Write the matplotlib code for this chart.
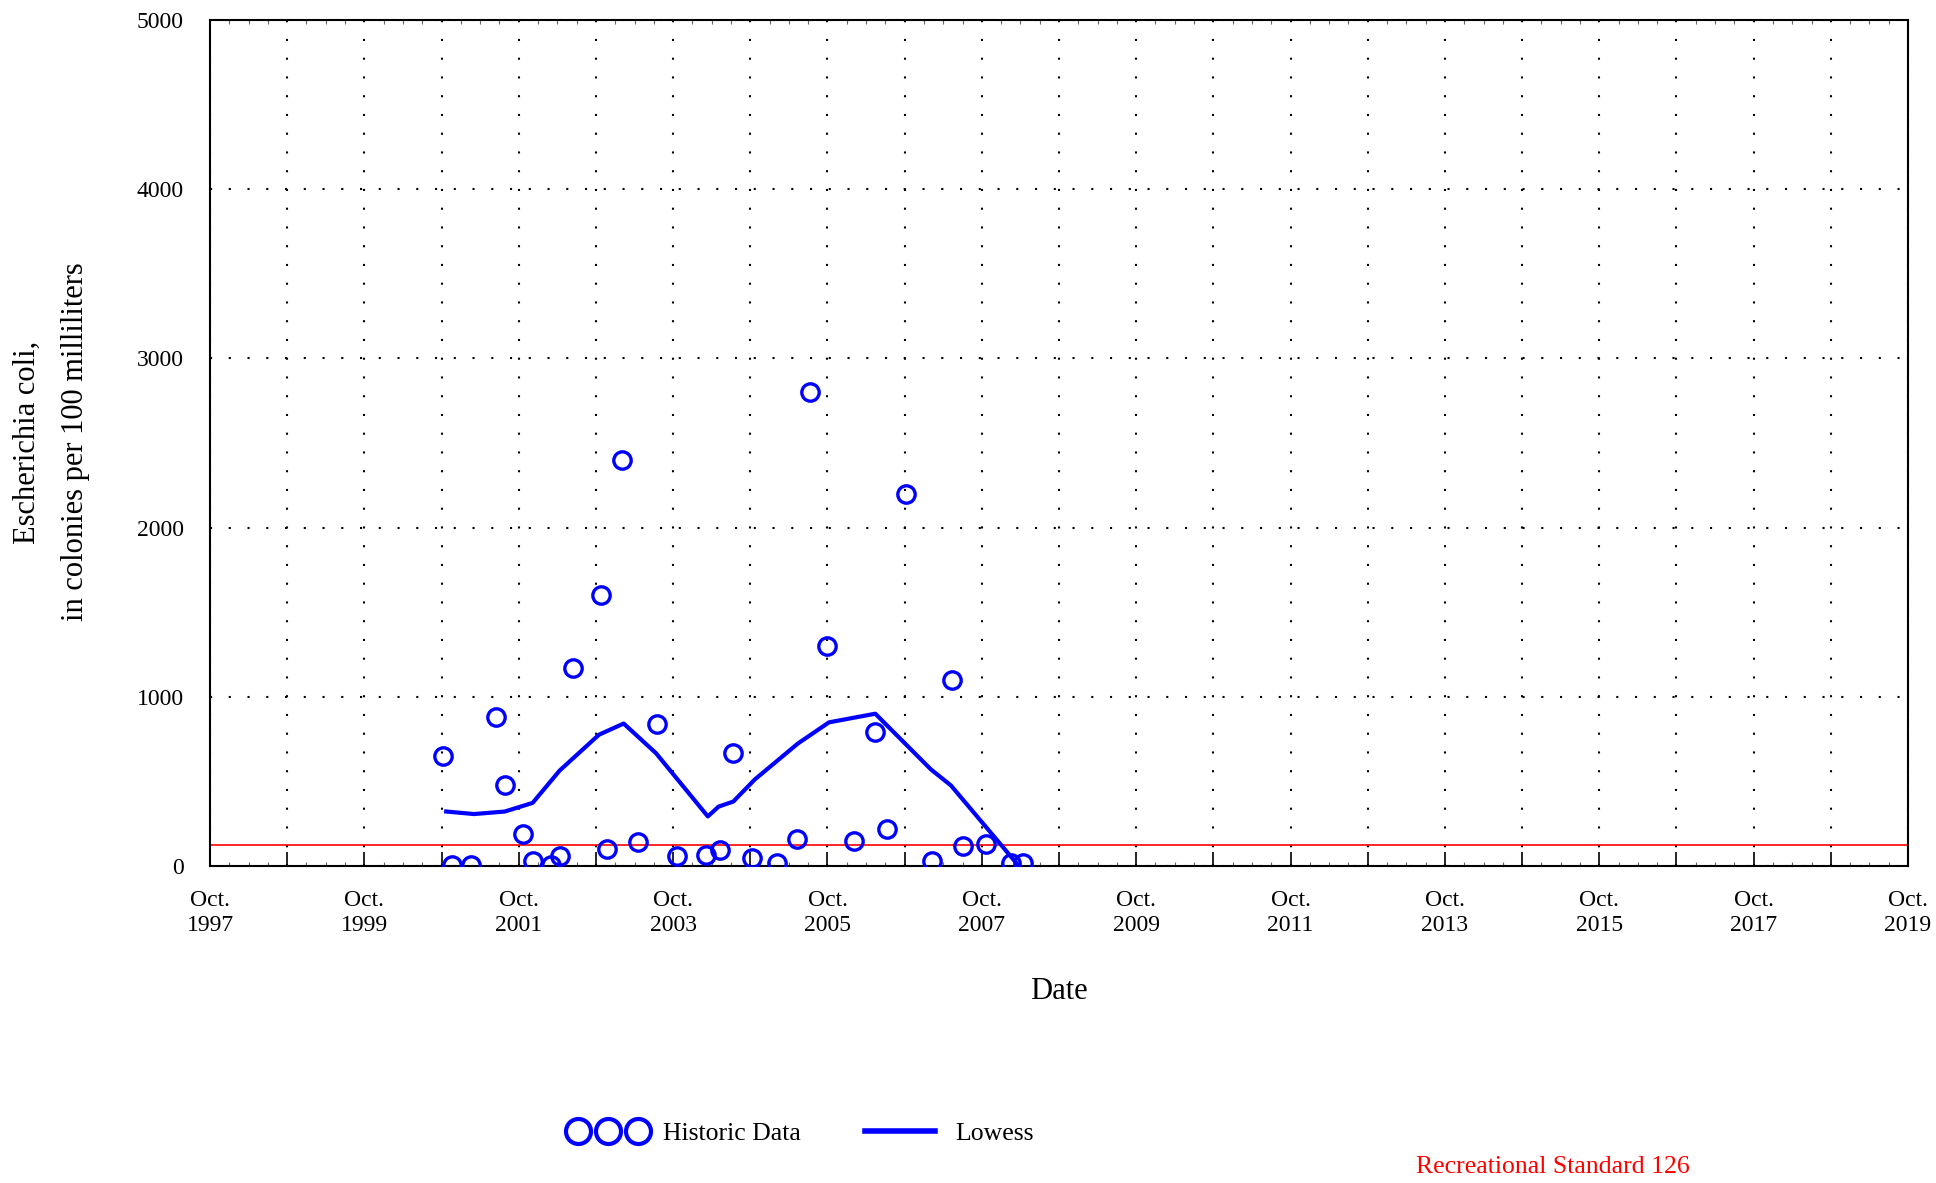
import numpy as np
import matplotlib.pyplot as plt
from matplotlib.lines import Line2D
from matplotlib.legend_handler import HandlerLine2D

plt.rcParams['font.family'] = ['Liberation Serif', 'DejaVu Serif']

# sample dates as decimal years, E. coli counts (colonies per 100 mL)
sample_year = [2000.77, 2000.89, 2001.13, 2001.46, 2001.57, 2001.81, 2001.93, 2002.17,
               2002.28, 2002.45, 2002.82, 2002.90, 2003.09, 2003.30, 2003.54, 2003.80,
               2004.18, 2004.36, 2004.53, 2004.77, 2005.09, 2005.35, 2005.53, 2005.75,
               2006.10, 2006.37, 2006.52, 2006.77, 2007.11, 2007.37, 2007.51, 2007.80,
               2008.13, 2008.29]
ecoli = [650, 5, 5, 880, 480, 190, 30, 5,
         60, 1170, 1600, 100, 2400, 140, 840, 60,
         65, 95, 670, 45, 15, 160, 2800, 1300,
         150, 790, 220, 2200, 30, 1100, 120, 130,
         15, 15]

# lowess smooth
lowess_year = [2000.81, 2001.17, 2001.57, 2001.93, 2002.28, 2002.79, 2003.11, 2003.53,
               2004.20, 2004.34, 2004.53, 2004.81, 2005.37, 2005.77, 2006.37, 2007.09,
               2007.35, 2008.23]
lowess_ecoli = [322, 307, 322, 373, 564, 776, 842, 666,
                293, 351, 381, 512, 725, 849, 900, 571,
                476, 0]

standard = 126
first_year = 1997
last_year = 2019

fig = plt.figure(figsize=(19.36, 11.83), dpi=100)
ax = fig.add_axes([210/1936, 1 - 866/1183, (1908 - 210)/1936, (866 - 20)/1183])

ax.plot(sample_year, ecoli, 'o', mfc='none', mec='blue', ms=12.5, mew=2.4, zorder=3)
ax.plot(lowess_year, lowess_ecoli, color='blue', lw=3, zorder=3)
ax.axhline(standard, color='red', lw=1.2, zorder=2)

# x axis: October of every year, labels every two years
major = [y + 0.75 for y in range(first_year, last_year + 1)]
labels = ['Oct.\n%d' % y if (y - first_year) % 2 == 0 else '' for y in range(first_year, last_year + 1)]
ax.set_xticks(major)
ax.set_xticklabels(labels)
ax.set_xticks(np.arange(first_year + 0.75, last_year + 0.76, 0.25), minor=True)
ax.set_xlim(first_year + 0.75, last_year + 0.75)

ax.set_ylim(0, 5000)
ax.set_yticks([0, 1000, 2000, 3000, 4000, 5000])

ax.tick_params(axis='x', which='major', direction='in', length=10, width=1.2,
               top=False, labelsize=17, pad=17)
ax.tick_params(axis='x', which='minor', direction='in', length=3, width=0.8,
               top=True, bottom=True, color='0.4')
ax.tick_params(axis='y', which='major', length=0, labelsize=17, pad=19)
for lab in ax.get_xticklabels():
    lab.set_linespacing(1.3)

ax.grid(True, which='major', color='black', linestyle=(0, (1, 8)), linewidth=1.5)

for s in ax.spines.values():
    s.set_linewidth(1.5)

ax.set_xlabel('Date', fontsize=22, labelpad=29)
fig.text(0.0265, 1 - 442/1183, 'Escherichia coli,\nin colonies per 100 milliliters',
         rotation=90, fontsize=22, ha='center', va='center', linespacing=1.9)

# legend below the plot
handles = [Line2D([], [], marker='o', ls='none', mfc='none', mec='blue', ms=18, mew=3),
           Line2D([], [], color='blue', lw=4)]
fig.legend(handles, ['Historic Data', 'Lowess'], loc='center', bbox_to_anchor=(0.413, 0.042),
           ncol=2, frameon=False, numpoints=3, fontsize=18.5, handlelength=3.3,
           columnspacing=2.2, handletextpad=0.5,
           handler_map={handles[0]: HandlerLine2D(numpoints=3, marker_pad=0.47)})

fig.text(0.802, 0.0135, 'Recreational Standard 126', color='red', fontsize=18.5,
         ha='center', va='center')

fig.savefig('out.png', dpi=100)
